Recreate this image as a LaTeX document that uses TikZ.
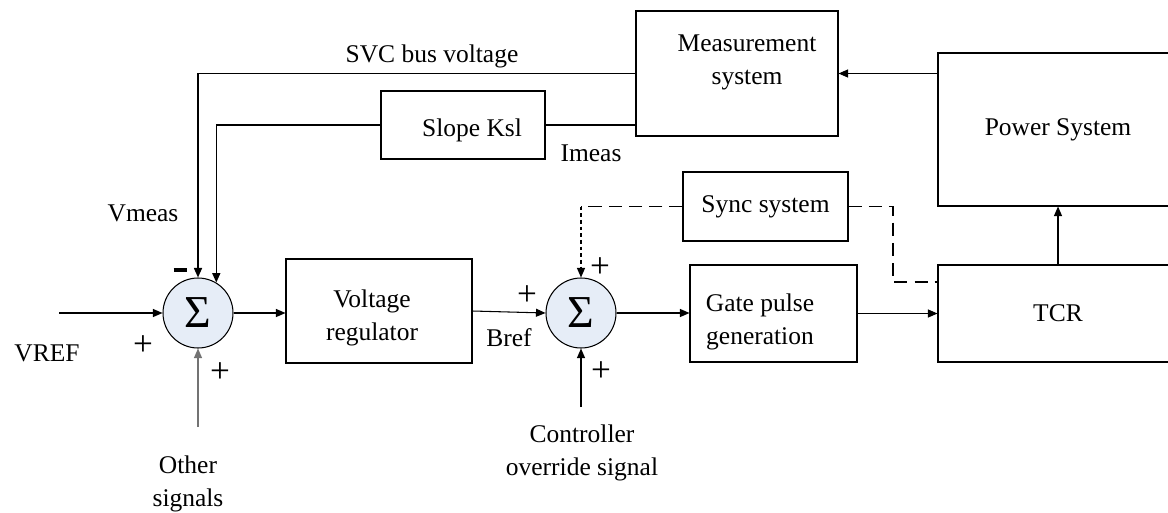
\documentclass[tikz,border=0pt]{standalone}
\usepackage{fontspec}
\setmainfont{Liberation Serif}
\usetikzlibrary{arrows.meta,calc}
\definecolor{sumfill}{RGB}{230,237,247}

\begin{document}
\begin{tikzpicture}[x=1cm,y=1cm,>={Triangle[length=1.9mm,width=1.6mm]},
  every node/.style={font=\fontsize{14.5}{19}\selectfont},
  blk/.style={draw,line width=0.6pt,inner sep=0pt},
  sumnode/.style={draw,circle,fill=sumfill,line width=0.6pt,minimum size=1.40cm,inner sep=0pt,font=\fontsize{26}{26}\selectfont},
  sgn/.style={inner sep=0pt,font=\fontsize{20}{20}\selectfont},
  sig/.style={line width=0.6pt},
  fb/.style={line width=0.9pt},
  syncdash/.style={line width=0.6pt,dash pattern=on 7.5pt off 4pt}]
\useasboundingbox (0,0) rectangle (23.36,-10.24);
% blocks
\node[blk,minimum width=4.04cm,minimum height=2.50cm] (meas) at (14.74,-1.47) {};
\node[align=center] (meastext) at (14.94,-1.25) {Measurement\\system};
\node[blk,minimum width=4.80cm,minimum height=3.06cm] (power) at (21.16,-2.59) {Power System};
\node[blk,minimum width=3.28cm,minimum height=1.36cm] (slope) at (9.26,-2.50) {};
\node (slopetext) at (9.44,-2.60) {Slope Ksl};
\node[blk,minimum width=3.30cm,minimum height=1.38cm] (sync) at (15.31,-4.13) {Sync system};
\node[blk,minimum width=3.72cm,minimum height=2.08cm] (vreg) at (7.58,-6.22) {};
\node[align=center] (vregtext) at (7.44,-6.36) {Voltage\\regulator};
\node[blk,minimum width=3.34cm,minimum height=1.94cm] (gate) at (15.47,-6.27) {};
\node[align=center] (gatetext) at (15.20,-6.44) {Gate pulse\\generation};
\node[blk,minimum width=4.80cm,minimum height=1.94cm] (tcr) at (21.16,-6.27) {TCR};
% summing junctions
\node[sumnode] (sum1) at (3.96,-6.26) {Σ};
\node[sumnode] (sum2) at (11.62,-6.26) {Σ};
% free ends
\coordinate (vrefin) at (1.18,-6.26);
\coordinate (otherin) at (3.96,-8.54);
\coordinate (ctrlin) at (11.62,-8.14);
\coordinate (synccorner) at (sync.west -| sum2.north);
\coordinate (syncbend) at (17.86,-4.13);
% labels
\node (svc) at (8.64,-1.12) {SVC bus voltage};
\node (imeas) at (11.82,-3.06) {Imeas};
\node (vmeas) at (2.86,-4.26) {Vmeas};
\node (vref) at (0.94,-7.06) {VREF};
\node (bref) at (10.18,-6.76) {Bref};
\node[align=center] (other) at (3.76,-9.68) {Other\\signals};
\node[align=center] (ctrl) at (11.64,-9.06) {Controller\\override signal};
\node[sgn] (minus1) at (3.60,-5.40) {\rule{0.26cm}{0.065cm}};
\node[sgn] (plus1) at (2.86,-6.92) {+};
\node[sgn] (plus2) at (4.40,-7.46) {+};
\node[sgn] (plus3) at (10.54,-5.92) {+};
\node[sgn] (plus4) at (12.00,-5.36) {+};
\node[sgn] (plus5) at (12.02,-7.44) {+};
% feedback
\draw[fb,->] (meas.west) -| (sum1.north);
\draw[fb] (slope.east) -- (slope.east -| meas.west);
\draw[fb,->] (slope.west) -| (sum1.59);
\draw[sig,->] (power.west |- meas.east) -- (meas.east);
% forward path
\draw[sig,->] (vrefin) -- (sum1.west);
\draw[sig,->,black!55] (otherin) -- (sum1.south);
\draw[sig,->] (sum1.east) -- (sum1.east -| vreg.west);
\draw[sig,->] (vreg.east) -- (sum2.west);
\draw[sig,->] (ctrlin) -- (sum2.south);
\draw[sig,->] (sum2.east) -- (sum2.east -| gate.west);
\draw[sig,->] (gate.east) -- (gate.east -| tcr.west);
\draw[sig,->] (tcr.north) -- (power.south);
% sync
\draw[syncdash] (sync.west) -- (synccorner);
\draw[sig,->,dash pattern=on 2.2pt off 1.6pt] (synccorner) -- (sum2.north);
\draw[syncdash] (sync.east) -- (syncbend) |- ([yshift=0.63cm]tcr.west);
\end{tikzpicture}
\end{document}
